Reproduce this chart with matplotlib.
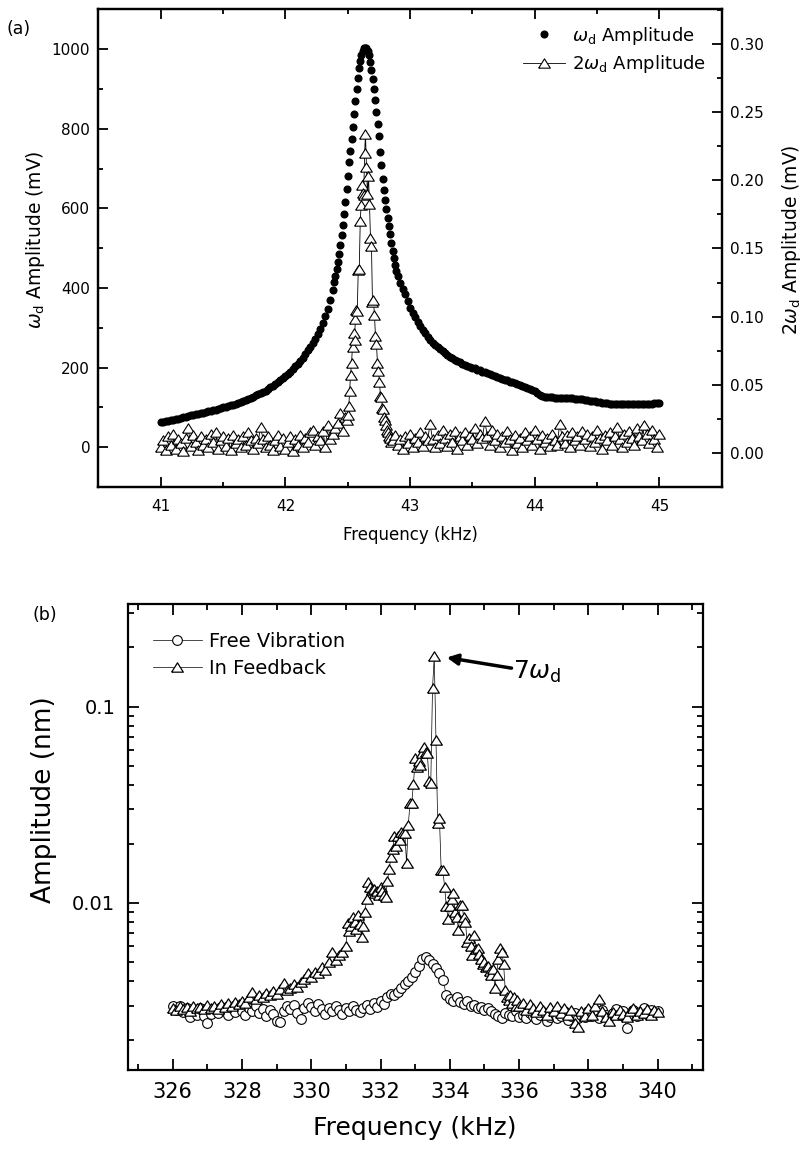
import numpy as np
import matplotlib
matplotlib.use("Agg")
import matplotlib.pyplot as plt
from matplotlib.ticker import MultipleLocator, LogLocator, NullFormatter, FuncFormatter

plt.rcParams["font.family"] = ["DejaVu Sans"]
plt.rcParams["mathtext.fontset"] = "dejavusans"

# ---------------- (a) data, frequency in kHz ----------------
# omega_d amplitude (mV): three sweep blocks (start, step)
wd_lo_start, wd_lo_step = 41.00, 0.02
wd_lo = [63, 64, 65, 66, 68, 69, 71, 72, 74, 76,
         77, 78, 80, 81, 83, 84, 85, 87, 88, 90,
         91, 93, 94, 96, 98, 100, 101, 103, 105, 107,
         109, 111, 113, 116, 118, 121, 124, 127, 130, 133,
         136, 139, 142, 146, 150, 154, 158, 163, 168, 173,
         178, 184, 190, 196, 203, 210, 217, 225, 234, 243,
         252, 262, 273, 285, 298, 313, 329, 348, 370, 395]
wd_pk_start, wd_pk_step = 42.39, 0.01
wd_pk = [415, 430, 447, 465, 485, 507, 532, 558, 586, 616,
         648, 682, 716, 745, 775, 805, 838, 870, 900, 927,
         952, 970, 985, 996, 1002, 1004, 1002, 996, 985, 969,
         949, 926, 900, 872, 842, 812, 781, 743, 708, 675,
         647, 620, 598, 577, 557, 535, 514, 494, 476, 459,
         443, 429]
wd_hi_start, wd_hi_step = 42.92, 0.02
wd_hi = [412, 398, 385, 367, 350, 338, 326, 315, 305, 295,
         286, 278, 270, 263, 257, 251, 246, 241, 236, 231,
         227, 223, 220, 216, 213, 210, 207, 205, 202, 200,
         198, 195, 193, 190, 188, 186, 184, 181, 179, 177,
         175, 172, 170, 168, 165, 163, 161, 158, 156, 154,
         151, 148, 145, 143, 140, 136, 132, 128, 126, 125,
         125, 125, 124, 124, 124, 124, 124, 123, 123, 123,
         122, 122, 121, 120, 119, 118, 117, 116, 115, 114,
         113, 112, 111, 110, 109, 109, 108, 108, 108, 108,
         108, 108, 108, 108, 108, 108, 108, 108, 109, 109,
         109, 109, 110, 110, 110]

# 2 omega_d amplitude (mV)
h2_lo_start, h2_lo_step = 41.00, 0.02
h2_lo = [0.004, 0.009, 0.002, 0.012, 0.006, 0.014, 0.003, 0.010, 0.007, 0.001,
         0.011, 0.018, 0.005, 0.013, 0.008, 0.002, 0.012, 0.006, 0.010, 0.004,
         0.014, 0.008, 0.015, 0.003, 0.009, 0.012, 0.005, 0.011, 0.002, 0.013,
         0.007, 0.010, 0.004, 0.012, 0.006, 0.015, 0.009, 0.003, 0.011, 0.007,
         0.019, 0.010, 0.004, 0.012, 0.006, 0.002, 0.009, 0.013, 0.005, 0.011,
         0.003, 0.008, 0.012, 0.001, 0.010, 0.006, 0.013, 0.004, 0.011, 0.008,
         0.015, 0.017, 0.006, 0.012, 0.009, 0.016, 0.004, 0.020, 0.010, 0.014,
         0.018, 0.022, 0.029, 0.016, 0.026]
h2_pk_freq = [42.490, 42.500, 42.508, 42.515, 42.522, 42.530, 42.538, 42.546, 42.554, 42.561,
              42.568, 42.576, 42.584, 42.592, 42.600, 42.607, 42.614, 42.621, 42.628, 42.635,
              42.642, 42.650, 42.658, 42.666, 42.674, 42.682, 42.690, 42.698, 42.706, 42.714,
              42.722, 42.730, 42.738, 42.746, 42.754, 42.762, 42.770, 42.778, 42.786, 42.794,
              42.802, 42.810, 42.818, 42.826, 42.834, 42.842, 42.850]
h2_pk = [0.024, 0.028, 0.034, 0.045, 0.057, 0.066, 0.078, 0.088, 0.083, 0.098,
         0.105, 0.104, 0.134, 0.135, 0.170, 0.182, 0.197, 0.191, 0.189, 0.220,
         0.234, 0.210, 0.190, 0.203, 0.183, 0.158, 0.152, 0.111, 0.112, 0.101,
         0.086, 0.080, 0.066, 0.060, 0.052, 0.042, 0.041, 0.033, 0.032, 0.026,
         0.024, 0.020, 0.017, 0.015, 0.012, 0.011, 0.008]
h2_hi_start, h2_hi_step = 42.86, 0.02
h2_hi = [0.009, 0.013, 0.006, 0.010, 0.003, 0.012, 0.007, 0.014, 0.004, 0.011,
         0.008, 0.015, 0.005, 0.012, 0.009, 0.021, 0.010, 0.004, 0.013, 0.007,
         0.017, 0.011, 0.005, 0.014, 0.008, 0.016, 0.003, 0.012, 0.009, 0.015,
         0.006, 0.013, 0.010, 0.018, 0.007, 0.014, 0.011, 0.023, 0.012, 0.006,
         0.017, 0.009, 0.014, 0.004, 0.012, 0.008, 0.016, 0.010, 0.002, 0.013,
         0.007, 0.011, 0.004, 0.015, 0.009, 0.012, 0.006, 0.017, 0.010, 0.003,
         0.013, 0.008, 0.011, 0.005, 0.014, 0.009, 0.006, 0.021, 0.012, 0.007,
         0.013, 0.004, 0.015, 0.009, 0.012, 0.006, 0.016, 0.010, 0.014, 0.005,
         0.012, 0.008, 0.017, 0.011, 0.003, 0.013, 0.009, 0.015, 0.006, 0.012,
         0.019, 0.010, 0.004, 0.014, 0.008, 0.016, 0.011, 0.006, 0.018, 0.012,
         0.009, 0.020, 0.014, 0.007, 0.017, 0.010, 0.004, 0.014]

# ---------------- (b) data, frequency in kHz, amplitude in nm ----------------
free_start, free_step = 326.0, 0.1
free_amp = [0.00297, 0.00285, 0.00300, 0.00278, 0.00290, 0.00262, 0.00283, 0.00270, 0.00292, 0.00265,
            0.00245, 0.00272, 0.00288, 0.00275, 0.00296, 0.00280, 0.00268, 0.00290, 0.00277, 0.00299,
            0.00283, 0.00270, 0.00293, 0.00281, 0.00300, 0.00276, 0.00289, 0.00265, 0.00284, 0.00271,
            0.00250, 0.00247, 0.00282, 0.00298, 0.00287, 0.00303, 0.00276, 0.00256, 0.00290, 0.00310,
            0.00296, 0.00282, 0.00305, 0.00288, 0.00273, 0.00292, 0.00280, 0.00300, 0.00286, 0.00272,
            0.00290, 0.00280, 0.00298, 0.00285, 0.00278, 0.00292, 0.00302, 0.00287, 0.00310, 0.00296,
            0.00318, 0.00305, 0.00330, 0.00345, 0.00338, 0.00352, 0.00370, 0.00385, 0.00400, 0.00420,
            0.00445, 0.00475, 0.00520, 0.00532, 0.00510, 0.00490, 0.00465, 0.00440, 0.00405, 0.00340,
            0.00325, 0.00318, 0.00330, 0.00312, 0.00305, 0.00318, 0.00298, 0.00303, 0.00290, 0.00296,
            0.00285, 0.00292, 0.00280, 0.00272, 0.00265, 0.00260, 0.00275, 0.00268, 0.00266, 0.00280,
            0.00262, 0.00270, 0.00258, 0.00275, 0.00264, 0.00255, 0.00268, 0.00278, 0.00250, 0.00262,
            0.00272, 0.00258, 0.00266, 0.00280, 0.00252, 0.00264, 0.00276, 0.00258, 0.00270, 0.00262,
            0.00280, 0.00266, 0.00274, 0.00258, 0.00285, 0.00270, 0.00262, 0.00276, 0.00288, 0.00268,
            0.00280, 0.00232, 0.00270, 0.00284, 0.00266, 0.00278, 0.00290, 0.00272, 0.00285, 0.00276,
            0.00282]

fb1_start, fb1_step = 326.0, 0.1
fb1 = [0.00291, 0.00285, 0.00298, 0.00288, 0.00295, 0.00283, 0.00300, 0.00290, 0.00296, 0.00287,
       0.00302, 0.00292, 0.00298, 0.00289, 0.00305, 0.00295, 0.00308, 0.00300, 0.00314, 0.00305,
       0.00318, 0.00308, 0.00330, 0.00353, 0.00325, 0.00340, 0.00330, 0.00348, 0.00340, 0.00358,
       0.00345, 0.00365, 0.00390, 0.00360, 0.00370, 0.00385, 0.00372, 0.00395, 0.00410, 0.00438,
       0.00420, 0.00445, 0.00440, 0.00470, 0.00455, 0.00500, 0.00565, 0.00510, 0.00540, 0.00560]
fb2_start, fb2_step = 331.0, 0.05
fb2 = [0.00600, 0.00789, 0.00720, 0.00760, 0.00850, 0.00800, 0.00740, 0.00870, 0.00780, 0.00670,
       0.00760, 0.00900, 0.01050, 0.01285, 0.01210, 0.01165, 0.01180, 0.01120, 0.01150, 0.01100,
       0.01200, 0.01150, 0.01100, 0.01077, 0.01300, 0.01485, 0.01720, 0.01880, 0.02180, 0.01950,
       0.02180, 0.02100, 0.02300, 0.02270, 0.02270, 0.01600, 0.02490, 0.03220, 0.03240, 0.04040,
       0.05460, 0.04900, 0.05300, 0.05050, 0.05800, 0.06250, 0.05900, 0.05780, 0.04200, 0.04100,
       0.12400, 0.18000, 0.06760, 0.02540, 0.02700, 0.01470, 0.01470, 0.01200, 0.00960, 0.00830,
       0.00960, 0.01050, 0.01120, 0.00900, 0.00850, 0.00730, 0.00980, 0.00980, 0.00850, 0.00800,
       0.00630, 0.00660, 0.00600, 0.00540, 0.00690, 0.00580, 0.00590, 0.00550, 0.00520, 0.00490,
       0.00500, 0.00470, 0.00480, 0.00450, 0.00430, 0.00460, 0.00370, 0.00430, 0.00520, 0.00590,
       0.00565, 0.00490, 0.00360, 0.00330, 0.00320, 0.00340, 0.00310, 0.00330, 0.00300, 0.00320]
fb3_start, fb3_step = 336.0, 0.1
fb3 = [0.00300, 0.00310, 0.00285, 0.00305, 0.00290, 0.00278, 0.00300, 0.00285, 0.00270, 0.00295,
       0.00282, 0.00300, 0.00275, 0.00290, 0.00268, 0.00285, 0.00245, 0.00234, 0.00280, 0.00265,
       0.00290, 0.00270, 0.00300, 0.00325, 0.00280, 0.00262, 0.00250, 0.00278, 0.00268, 0.00285,
       0.00272, 0.00262, 0.00280, 0.00290, 0.00268, 0.00283, 0.00275, 0.00288, 0.00270, 0.00285,
       0.00279]


def sweep(start, step, vals):
    return start + step * np.arange(len(vals))


wd_f = np.concatenate([sweep(wd_lo_start, wd_lo_step, wd_lo),
                       sweep(wd_pk_start, wd_pk_step, wd_pk),
                       sweep(wd_hi_start, wd_hi_step, wd_hi)])
wd_a = np.array(wd_lo + wd_pk + wd_hi)
h2_f = np.concatenate([sweep(h2_lo_start, h2_lo_step, h2_lo),
                       np.array(h2_pk_freq),
                       sweep(h2_hi_start, h2_hi_step, h2_hi)])
h2_a = np.array(h2_lo + h2_pk + h2_hi)
free_f = sweep(free_start, free_step, free_amp)
fb_f = np.concatenate([sweep(fb1_start, fb1_step, fb1),
                       sweep(fb2_start, fb2_step, fb2),
                       sweep(fb3_start, fb3_step, fb3)])
fb_a = np.array(fb1 + fb2 + fb3)

tri = [(-1.0, -0.8), (1.0, -0.8), (0.0, 0.8), (-1.0, -0.8)]

fig = plt.figure(figsize=(8.02, 11.51), dpi=100)

# ---------------- panel (a) ----------------
ax1 = fig.add_axes([0.1228, 0.5769, 0.7771, 0.4149])
ax2 = ax1.twinx()

ax1.plot(wd_f, wd_a, ls="none", marker="o", ms=4.8, mfc="black", mec="black",
         label=r"$\omega_\mathrm{d}$ Amplitude")
ax2.plot(h2_f, h2_a, color="black", lw=0.6, marker=tri, ms=8.4, mfc="white",
         mec="black", mew=0.8, label=r"2$\omega_\mathrm{d}$ Amplitude")

ax1.set_xlim(40.5, 45.5)
ax1.set_ylim(-100, 1100)
ax2.set_ylim(-0.0252, 0.3256)
ax1.xaxis.set_major_locator(MultipleLocator(1))
ax1.xaxis.set_minor_locator(MultipleLocator(0.5))
ax1.yaxis.set_major_locator(MultipleLocator(200))
ax1.yaxis.set_minor_locator(MultipleLocator(100))
ax2.yaxis.set_major_locator(MultipleLocator(0.05))
ax2.yaxis.set_minor_locator(MultipleLocator(0.025))
ax2.yaxis.set_major_formatter(FuncFormatter(lambda v, p: f"{v:.2f}"))

ax1.tick_params(which="both", direction="in", top=True, right=False, width=1.3,
                labelsize=11, pad=6)
ax1.tick_params(axis="x", pad=9)
ax1.tick_params(which="major", length=7)
ax1.tick_params(which="minor", length=3.5)
ax2.tick_params(which="both", direction="in", width=1.3, labelsize=11, pad=6)
ax2.tick_params(which="major", length=7)
ax2.tick_params(which="minor", length=3.5)
for ax in (ax1, ax2):
    for s in ax.spines.values():
        s.set_linewidth(1.6)

ax1.set_xlabel("Frequency (kHz)", fontsize=12, labelpad=8)
ax1.set_ylabel(r"$\omega_\mathrm{d}$ Amplitude (mV)", fontsize=13.5)
ax2.set_ylabel(r"2$\omega_\mathrm{d}$ Amplitude (mV)", fontsize=13.5)
ax1.yaxis.set_label_coords(-0.083, 0.517)
ax2.yaxis.set_label_coords(1.093, 0.517)

h1, l1 = ax1.get_legend_handles_labels()
h2, l2 = ax2.get_legend_handles_labels()
ax2.legend(h1 + h2, l1 + l2, loc="upper right", bbox_to_anchor=(0.975, 0.968),
           frameon=False, fontsize=13, handlelength=2.3, handletextpad=0.4,
           labelspacing=0.35, borderpad=0, borderaxespad=0)

fig.text(19 / 802, 1 - 29 / 1151, "(a)", fontsize=12.5, ha="center", va="center")

# ---------------- panel (b) ----------------
ax3 = fig.add_axes([0.1592, 0.0704, 0.7170, 0.4046])
ax3.plot(free_f, free_amp, color="black", lw=0.5, marker="o", ms=7, mfc="white",
         mec="black", mew=0.8, label="Free Vibration")
ax3.plot(fb_f, fb_a, color="black", lw=0.5, marker=tri, ms=8.4, mfc="white",
         mec="black", mew=0.9, label="In Feedback")

ax3.set_yscale("log")
ax3.set_xlim(324.7, 341.3)
ax3.set_ylim(0.00141, 0.332)
ax3.xaxis.set_major_locator(MultipleLocator(2))
ax3.xaxis.set_minor_locator(MultipleLocator(1))
ax3.yaxis.set_major_locator(LogLocator(base=10))
ax3.yaxis.set_minor_locator(LogLocator(base=10, subs=np.arange(2, 10)))
ax3.yaxis.set_major_formatter(FuncFormatter(lambda v, p: f"{v:g}"))
ax3.yaxis.set_minor_formatter(NullFormatter())
ax3.tick_params(which="both", direction="in", top=True, right=True, width=1.3)
ax3.tick_params(which="major", length=8)
ax3.tick_params(which="minor", length=4)
ax3.tick_params(axis="x", labelsize=15, pad=9)
ax3.tick_params(axis="y", labelsize=14, pad=9)
for s in ax3.spines.values():
    s.set_linewidth(1.6)

ax3.set_xlabel("Frequency (kHz)", fontsize=18, labelpad=10)
ax3.set_ylabel("Amplitude (nm)", fontsize=19)
ax3.yaxis.set_label_coords(-0.123, 0.58)
ax3.legend(loc="upper left", bbox_to_anchor=(0.044, 0.94), frameon=False,
           fontsize=14, handlelength=2.5, handletextpad=0.37, labelspacing=0.4,
           borderpad=0, borderaxespad=0)

ax3.annotate("", xy=(333.91, 0.1778), xytext=(335.78, 0.157),
             arrowprops=dict(arrowstyle="-|>", lw=2.5, color="black", mutation_scale=16,
                             shrinkA=0, shrinkB=0))
ax3.text(335.83, 0.150, r"7$\omega_\mathrm{d}$", fontsize=18, ha="left", va="center")

fig.text(45 / 802, 1 - 615 / 1151, "(b)", fontsize=12.5, ha="center", va="center")

fig.savefig("out.png", dpi=100)
